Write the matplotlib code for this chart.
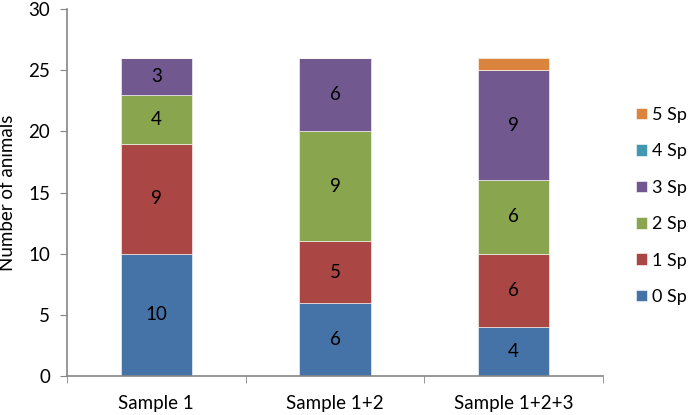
import numpy as np
import matplotlib
matplotlib.use("Agg")
import matplotlib.pyplot as plt

plt.rcParams['font.family'] = ['Lato', 'DejaVu Sans']

categories = ["Sample 1", "Sample 1+2", "Sample 1+2+3"]
series_names = ["0 Sp", "1 Sp", "2 Sp", "3 Sp", "4 Sp", "5 Sp"]
sp0 = [10, 6, 4]
sp1 = [9, 5, 6]
sp2 = [4, 9, 6]
sp3 = [3, 6, 9]
sp4 = [0, 0, 0]
sp5 = [0, 0, 1]
colors = ["#4572A7", "#AA4643", "#89A54E", "#71588F", "#4198AF", "#DB843D"]

values = [sp0, sp1, sp2, sp3, sp4, sp5]

fig = plt.figure(figsize=(6.88, 4.15), dpi=100)
ax = fig.add_axes([67/688, 1 - 376/415, (603 - 67)/688, (376 - 9)/415])

x = np.arange(len(categories))
bottom = np.zeros(len(categories))
handles = []
for name, vals, c in zip(series_names, values, colors):
    vals = np.array(vals, dtype=float)
    b = ax.bar(x, vals, 0.4, bottom=bottom, color=c, label=name,
               edgecolor="white", linewidth=0.4)
    handles.append(b)
    for xi, v, bt in zip(x, vals, bottom):
        if v > 1:
            ax.text(xi, bt + v / 2, f"{int(v)}", ha="center", va="center",
                    fontsize=13.5, color="black")
    bottom += vals

ax.set_xlim(-0.5, 2.5)
ax.set_ylim(0, 30)
ax.set_yticks(range(0, 31, 5))
ax.set_xticks(x)
ax.set_xticklabels(categories)
ax.set_xticks([-0.5, 0.5, 1.5, 2.5], minor=True)
ax.tick_params(axis="x", which="major", length=0, pad=14, labelsize=13.5)
ax.tick_params(axis="x", which="minor", length=5, color="#868686", direction="out")
ax.tick_params(axis="y", length=5, color="#868686", labelsize=13.5, pad=7)
for s in ["top", "right"]:
    ax.spines[s].set_visible(False)
for s in ["left", "bottom"]:
    ax.spines[s].set_color("#868686")
    ax.spines[s].set_linewidth(1.2)
ax.set_ylabel("Number of animals", fontsize=13.5, labelpad=9)

leg = fig.legend(handles[::-1], series_names[::-1], loc="center left",
                 bbox_to_anchor=(636/688, 1 - 206/415), frameon=False,
                 fontsize=13, handlelength=0.61, handleheight=0.61,
                 handletextpad=0.3, labelspacing=1.13, borderpad=0,
                 borderaxespad=0)

fig.savefig("out.png", dpi=100)
